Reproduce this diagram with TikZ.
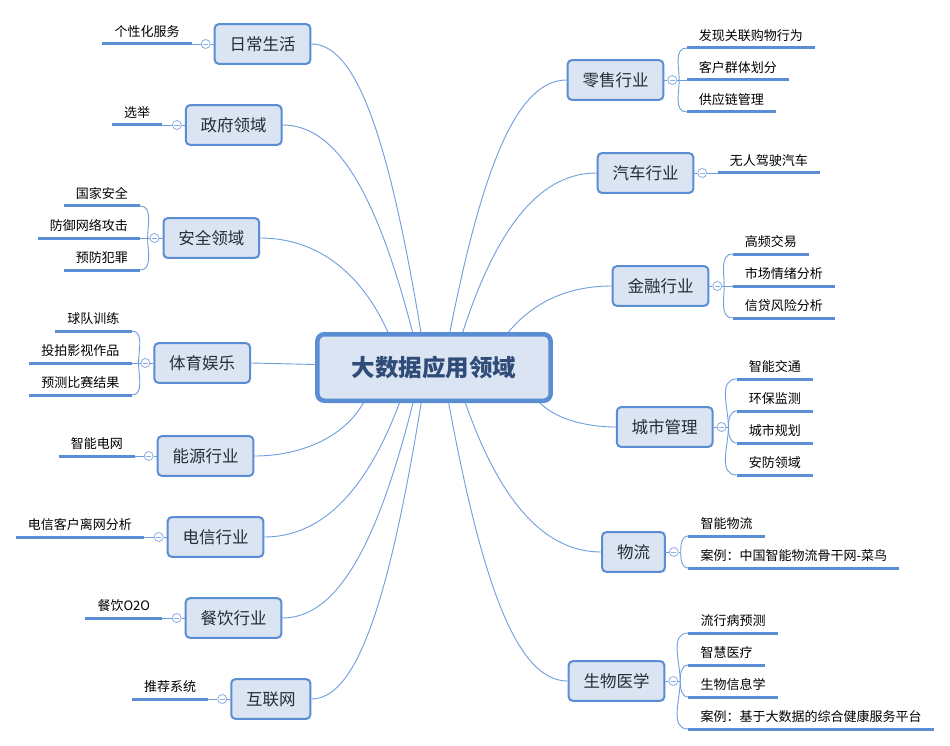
\documentclass[tikz,border=0pt]{standalone}
\usepackage{fontspec}
\setmainfont{Noto Sans CJK SC}
\usetikzlibrary{backgrounds}
\definecolor{bd}{HTML}{5A8DD4}
\definecolor{bf}{HTML}{DAE4F2}
\definecolor{cn}{HTML}{6F9DDC}
\definecolor{cc}{HTML}{8AAEE3}
\definecolor{ct}{HTML}{262C38}
\definecolor{rt}{HTML}{2F4B78}
\tikzset{
  cbox/.style={draw=bd, line width=2pt, fill=bf, rounded corners=4pt, inner xsep=14.8pt, inner ysep=0pt, minimum height=39.6pt, font=\fontsize{16.5}{16.5}\selectfont, text=ct},
  rootbox/.style={draw=bd, line width=4.5pt, fill=bf, rounded corners=7pt, inner xsep=34.4pt, inner ysep=0pt, minimum height=66.5pt, font=\fontsize{23.5}{23.5}\selectfont\bfseries, text=rt},
  circ/.style={circle, draw=cc, line width=0.8pt, fill=white, minimum size=9pt, inner sep=0pt,
    path picture={\draw[cc, line width=0.8pt] ([xshift=-2.6pt]path picture bounding box.center) -- ([xshift=2.6pt]path picture bounding box.center);}},
  leaf/.style={inner xsep=12pt, inner ysep=0pt, font=\fontsize{13}{13}\selectfont, text=black},
  leafline/.style={draw=bd, line width=3pt},
  conn/.style={draw=cn, line width=0.9pt},
  tline/.style={draw=cn, line width=0.9pt}
}
\newcommand\lfR[4]{\coordinate (#1) at (#2,#3);
  \node[leaf, anchor=base west] (#1t) at ([yshift=7.8pt]#1) {#4};
  \draw[leafline] (#1) -- ([yshift=-7.8pt]#1t.base east);}
\newcommand\lfL[4]{\coordinate (#1) at (#2,#3);
  \node[leaf, anchor=base east] (#1t) at ([yshift=7.8pt]#1) {#4};
  \draw[leafline] (#1) -- ([yshift=-7.8pt]#1t.base west);}
\begin{document}
\begin{tikzpicture}[x=1pt, y=-1pt]
\useasboundingbox (0,0) rectangle (950,746);

% root
\node[rootbox] (root) at (434,367.5) {大数据应用领域};

% left children
\node[cbox] (d1) at (262.5,44) {日常生活};
\node[cbox] (d2) at (233.7,125) {政府领域};
\node[cbox] (d3) at (211.3,238) {安全领域};
\node[cbox] (d4) at (202.2,363) {体育娱乐};
\node[cbox] (d5) at (205.5,456) {能源行业};
\node[cbox] (d6) at (215.5,537) {电信行业};
\node[cbox] (d7) at (233.5,618) {餐饮行业};
\node[cbox] (d8) at (270.8,699) {互联网};
% right children
\node[cbox] (r1) at (615.5,80) {零售行业};
\node[cbox] (r2) at (645.5,173) {汽车行业};
\node[cbox] (r3) at (660.5,286) {金融行业};
\node[cbox] (r4) at (664.7,427) {城市管理};
\node[cbox] (r5) at (633.5,552) {物流};
\node[cbox] (r6) at (616.5,681) {生物医学};

% collapse markers
\foreach \n in {d1,d2,d3,d4,d5,d6,d7,d8}{
  \node[circ] (k\n) at ([xshift=-8pt]\n.west) {};
  \draw[tline] (\n.west) -- (k\n);
  \coordinate (j\n) at ([xshift=-2pt]k\n.west);
}
\foreach \n in {r1,r2,r3,r4,r5,r6}{
  \node[circ] (k\n) at ([xshift=8pt]\n.east) {};
  \draw[tline] (\n.east) -- (k\n);
  \coordinate (j\n) at ([xshift=2pt]k\n.east);
}

% left leaves
\lfL{d1a}{191.7}{44}{个性化服务}
\draw[tline] (kd1) -- (d1a);
\lfL{d2a}{162.3}{125}{选举}
\draw[tline] (kd2) -- (d2a);
\lfL{d3a}{140}{206}{国家安全}
\lfL{d3b}{140}{238}{防御网络攻击}
\lfL{d3c}{140}{270}{预防犯罪}
\draw[tline] (kd3) -- (d3b);
\draw[tline] (jd3) to[out=90,in=0] (d3a);
\draw[tline] (jd3) to[out=-90,in=0] (d3c);
\lfL{d4a}{131.5}{331}{球队训练}
\lfL{d4b}{131.5}{363}{投拍影视作品}
\lfL{d4c}{131.5}{395}{预测比赛结果}
\draw[tline] (kd4) -- (d4b);
\draw[tline] (jd4) to[out=90,in=0] (d4a);
\draw[tline] (jd4) to[out=-90,in=0] (d4c);
\lfL{d5a}{135}{456}{智能电网}
\draw[tline] (kd5) -- (d5a);
\lfL{d6a}{144}{537}{电信客户离网分析}
\draw[tline] (kd6) -- (d6a);
\lfL{d7a}{162.3}{618}{餐饮O2O}
\draw[tline] (kd7) -- (d7a);
\lfL{d8a}{208.3}{699}{推荐系统}
\draw[tline] (kd8) -- (d8a);

% right leaves
\lfR{r1a}{686.7}{48}{发现关联购物行为}
\lfR{r1b}{686.7}{80}{客户群体划分}
\lfR{r1c}{686.7}{112}{供应链管理}
\draw[tline] (kr1) -- (r1b);
\draw[tline] (jr1) to[out=90,in=180] (r1a);
\draw[tline] (jr1) to[out=-90,in=180] (r1c);
\lfR{r2a}{717.7}{173}{无人驾驶汽车}
\draw[tline] (kr2) -- (r2a);
\lfR{r3a}{732.7}{254}{高频交易}
\lfR{r3b}{732.7}{286}{市场情绪分析}
\lfR{r3c}{732.7}{318}{信贷风险分析}
\draw[tline] (kr3) -- (r3b);
\draw[tline] (jr3) to[out=90,in=180] (r3a);
\draw[tline] (jr3) to[out=-90,in=180] (r3c);
\lfR{r4a}{736.7}{379}{智能交通}
\lfR{r4b}{736.7}{411}{环保监测}
\lfR{r4c}{736.7}{443}{城市规划}
\lfR{r4d}{736.7}{475}{安防领域}
\draw[tline] (kr4) -- (jr4);
\draw[tline] (jr4) to[out=90,in=180] (r4a);
\draw[tline] (jr4) to[out=90,in=180] (r4b);
\draw[tline] (jr4) to[out=-90,in=180] (r4c);
\draw[tline] (jr4) to[out=-90,in=180] (r4d);
\lfR{r5a}{688.3}{536}{智能物流}
\lfR{r5b}{688.3}{568}{案例：中国智能物流骨干网-菜鸟}
\draw[tline] (kr5) -- (jr5);
\draw[tline] (jr5) to[out=90,in=180] (r5a);
\draw[tline] (jr5) to[out=-90,in=180] (r5b);
\lfR{r6a}{688.3}{633}{流行病预测}
\lfR{r6b}{688.3}{665}{智慧医疗}
\lfR{r6c}{688.3}{697}{生物信息学}
\lfR{r6d}{688.3}{729}{案例：基于大数据的综合健康服务平台}
\draw[tline] (kr6) -- (jr6);
\draw[tline] (jr6) to[out=90,in=180] (r6a);
\draw[tline] (jr6) to[out=90,in=180] (r6b);
\draw[tline] (jr6) to[out=-90,in=180] (r6c);
\draw[tline] (jr6) to[out=-90,in=180] (r6d);

% connectors from root
\begin{scope}[on background layer]
\fill[white] (0,0) rectangle (950,746);
\draw[conn] ([xshift=-13.1pt]root.north) .. controls (387.4,130.5) and (355,44) .. (d1.east);
\draw[conn] ([xshift=-21.5pt]root.north) .. controls (375,187) and (334.4,125) .. (d2.east);
\draw[conn] ([xshift=-46.2pt]root.north) .. controls (358.2,266.1) and (311.1,238) .. (d3.east);
\draw[conn] ([yshift=3pt]root.west) -- (d4.east);
\draw[conn] ([xshift=-70.7pt]root.south) .. controls (342.8,439.2) and (297.9,456) .. (d5.east);
\draw[conn] ([xshift=-34.6pt]root.south) .. controls (364.6,496.2) and (318.3,537) .. (d6.east);
\draw[conn] ([xshift=-21pt]root.south) .. controls (375.2,552.7) and (334.6,618) .. (d7.east);
\draw[conn] ([xshift=-12.8pt]root.south) .. controls (387.6,609.6) and (355.1,699) .. (d8.east);
\draw[conn] ([xshift=15.9pt]root.north) .. controls (484.7,155.4) and (520,80) .. (r1.west);
\draw[conn] ([xshift=28.8pt]root.north) .. controls (499.1,220.6) and (543.1,173) .. (r2.west);
\draw[conn] ([xshift=74.5pt]root.north) .. controls (537.5,297.1) and (575.6,286) .. (r3.west);
\draw[conn] ([xshift=106pt]root.south) .. controls (557.2,420.4) and (589.4,427) .. (r4.west);
\draw[conn] ([xshift=31.4pt]root.south) .. controls (501.6,506.5) and (547.2,552) .. (r5.west);
\draw[conn] ([xshift=14.7pt]root.south) .. controls (484.4,597.1) and (520.1,681) .. (r6.west);
\end{scope}
\end{tikzpicture}
\end{document}
